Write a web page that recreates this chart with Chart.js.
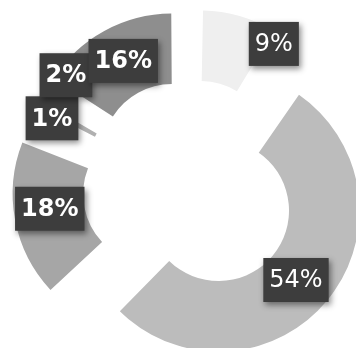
<!DOCTYPE html>
<html lang="en">

<head>
    <meta charset="UTF-8" />
    <title>Share</title>
    <script src="https://cdn.jsdelivr.net/npm/chart.js"></script>
    <style>
        body {
            margin: 0;
            background: #ffffff;
        }

        .chart-box {
            width: 356px;
            height: 348px;
        }
    </style>
</head>

<body>
    <div class="chart-box">
        <canvas id="shareChart"></canvas>
    </div>

    <script>
        // ===== Data =====
        const categories = ['Segment 1', 'Segment 2', 'Segment 3', 'Segment 4', 'Segment 5', 'Segment 6'];
        const shares = [9, 54, 18, 1, 2, 16];

        // ===== Style =====
        const sliceColors = ['#efefef', '#bcbcbc', '#a6a6a6', '#666666', '#b0b0b0', '#8e8e8e'];
        const labelNudge = [[44, -6], [-4, 2], [0, -5], [-7, -12], [1, -43], [2, -1]];
        const labelWeight = ['normal', 'normal', 'bold', 'bold', 'bold', 'bold'];

        // arcs grow their radius by part of the offset; pull it back so every ring keeps one size
        const keepRadius = {
            id: 'keepRadius',
            beforeDatasetsDraw(chart) {
                const meta = chart.getDatasetMeta(0);
                const ctrl = meta.controller;
                meta.data.forEach(arc => {
                    const push = (arc.options.offset || 0) / 4;
                    const shift = push * (1 - Math.sin(Math.min(Math.PI, arc.circumference)));
                    arc.innerRadius = ctrl.innerRadius - shift;
                    arc.outerRadius = ctrl.outerRadius - shift;
                });
            }
        };

        // dark value boxes sitting on the ring
        const valueBoxes = {
            id: 'valueBoxes',
            afterDatasetsDraw(chart) {
                const ctx = chart.ctx;
                const meta = chart.getDatasetMeta(0);
                const ctrl = meta.controller;
                meta.data.forEach((arc, i) => {
                    const mid = (arc.startAngle + arc.endAngle) / 2;
                    const push = (arc.options.offset || 0) / 4;
                    const r = (ctrl.innerRadius + ctrl.outerRadius) / 2 + push;
                    const x = arc.x + Math.cos(mid) * r + labelNudge[i][0];
                    const y = arc.y + Math.sin(mid) * r + labelNudge[i][1];
                    const text = shares[i] + '%';

                    ctx.save();
                    ctx.font = labelWeight[i] + ' 24px "DejaVu Sans"';
                    const w = ctx.measureText(text).width + 12;
                    const h = 44;
                    ctx.shadowColor = 'rgba(0, 0, 0, 0.45)';
                    ctx.shadowBlur = 6;
                    ctx.shadowOffsetX = 2;
                    ctx.shadowOffsetY = 3;
                    ctx.fillStyle = '#3d3d3d';
                    ctx.fillRect(x - w / 2, y - h / 2, w, h);
                    ctx.shadowColor = 'transparent';
                    ctx.fillStyle = '#ffffff';
                    ctx.textAlign = 'center';
                    ctx.textBaseline = 'middle';
                    ctx.fillText(text, x, y + 1);
                    ctx.restore();
                });
            }
        };

        new Chart(document.getElementById('shareChart'), {
            type: 'doughnut',
            data: {
                labels: categories,
                datasets: [{
                    data: shares,
                    backgroundColor: sliceColors,
                    borderWidth: 0,
                    offset: 148
                }]
            },
            options: {
                responsive: true,
                maintainAspectRatio: false,
                animation: false,
                events: [],
                radius: 141,
                cutout: '50%',
                layout: {
                    padding: { left: 24, top: 26, right: 0, bottom: 0 }
                },
                plugins: {
                    legend: { display: false },
                    tooltip: { enabled: false }
                }
            },
            plugins: [keepRadius, valueBoxes]
        });
    </script>

</body>

</html>
